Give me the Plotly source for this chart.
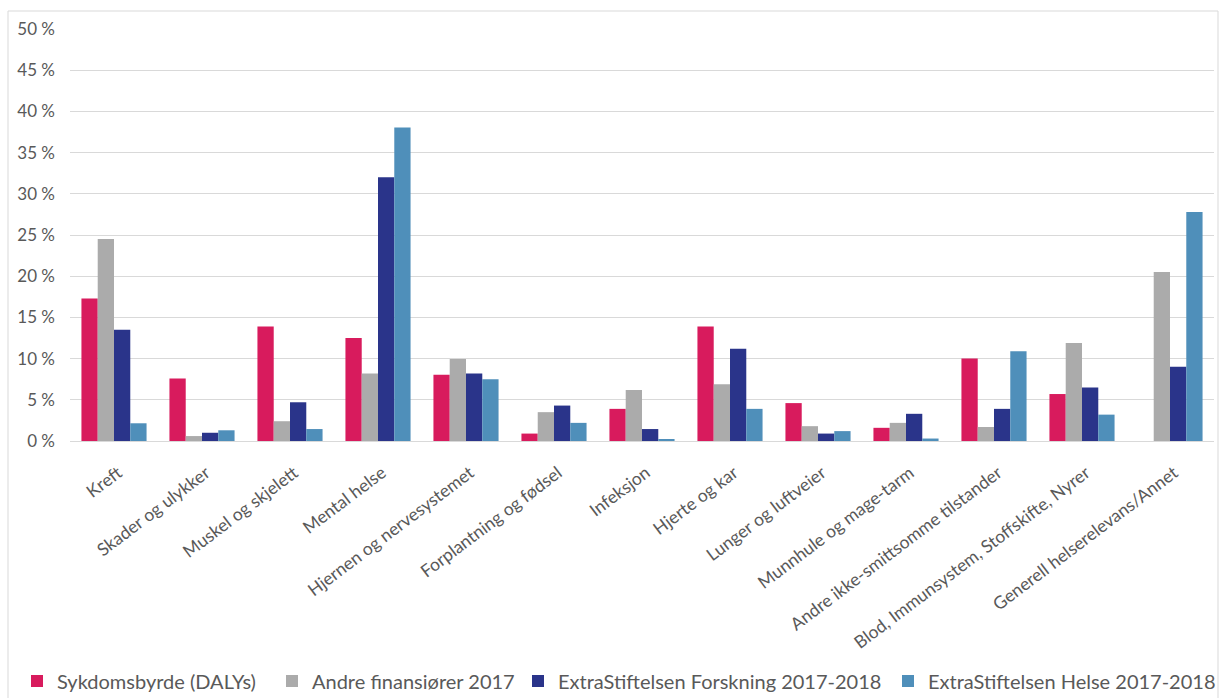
import plotly.graph_objects as go

categories = ["Kreft", "Skader og ulykker", "Muskel og skjelett", "Mental helse",
              "Hjernen og nervesystemet", "Forplantning og fødsel", "Infeksjon",
              "Hjerte og kar", "Lunger og luftveier", "Munnhule og mage-tarm",
              "Andre ikke-smittsomme tilstander", "Blod, Immunsystem, Stoffskifte, Nyrer",
              "Generell helserelevans/Annet"]

sykdomsbyrde = [17.3, 7.6, 13.9, 12.5, 8.05, 0.9, 3.9, 13.9, 4.6, 1.6, 10.0, 5.7, 0.0]
andre_finansiorer = [24.5, 0.6, 2.4, 8.2, 9.95, 3.5, 6.2, 6.9, 1.8, 2.2, 1.7, 11.9, 20.5]
extra_forskning = [13.5, 1.0, 4.7, 32.0, 8.2, 4.3, 1.45, 11.2, 0.9, 3.3, 3.9, 6.5, 9.0]
extra_helse = [2.15, 1.3, 1.45, 38.05, 7.5, 2.2, 0.2, 3.9, 1.2, 0.3, 10.9, 3.2, 27.8]

series_names = ["Sykdomsbyrde (DALYs)", "Andre finansiører 2017",
                "ExtraStiftelsen Forskning 2017-2018", "ExtraStiftelsen Helse 2017-2018"]
series_values = [sykdomsbyrde, andre_finansiorer, extra_forskning, extra_helse]
colors = ["#D81B5D", "#ABABAB", "#2A348A", "#4F8FBA"]

y_ticks = [0, 5, 10, 15, 20, 25, 30, 35, 40, 45, 50]
y_tick_labels = ["0 %", "5 %", "10 %", "15 %", "20 %", "25 %", "30 %", "35 %", "40 %", "45 %", "50 %"]

FONT = "Lato, Carlito, Calibri, sans-serif"
TXT = "#595959"

# plot area: x 70..1214, y 29..441
L, R, T, B = 70, 11, 29, 257
W, H = 1225, 698
pw, ph = W - L - R, H - T - B

def px(x):
    return (x - L) / pw

def py(y):
    return (H - B - y) / ph

legend_ids = ["legend", "legend2", "legend3", "legend4"]
legend_left = [17, 272, 518, 888]

fig = go.Figure()
for name, vals, col, lid in zip(series_names, series_values, colors, legend_ids):
    fig.add_trace(go.Bar(x=categories, y=vals, name=name, marker_color=col,
                         marker_line_width=0, legend=lid))

legend_layout = {}
for lid, lx in zip(legend_ids, legend_left):
    legend_layout[lid] = dict(orientation="h", x=px(lx), xanchor="left", y=py(681),
                              yanchor="middle", bgcolor="rgba(0,0,0,0)", borderwidth=0,
                              font=dict(size=20, color=TXT, family=FONT))

fig.update_layout(
    width=W, height=H,
    margin=dict(l=L, r=R, t=T, b=B, autoexpand=False),
    paper_bgcolor="white", plot_bgcolor="white",
    barmode="group", bargap=0.26, bargroupgap=0,
    font=dict(family=FONT, color=TXT),
    showlegend=True,
    shapes=[dict(type="rect", xref="paper", yref="paper",
                 x0=px(8), x1=px(1218), y0=py(699), y1=py(11),
                 line=dict(color="#D9D9D9", width=1), fillcolor="rgba(0,0,0,0)", layer="below")],
    **legend_layout,
)
fig.update_yaxes(range=[0, 50], tickmode="array", tickvals=y_ticks, ticktext=y_tick_labels,
                 showgrid=True, gridcolor="#D9D9D9", gridwidth=1,
                 zeroline=True, zerolinecolor="#D9D9D9", zerolinewidth=1,
                 showline=False, tickfont=dict(size=17, color=TXT, family=FONT),
                 ticks="", ticklabelstandoff=14, fixedrange=True, automargin=False)
fig.update_xaxes(tickangle=-37, tickfont=dict(size=17.5, color=TXT, family=FONT),
                 showline=True, linecolor="#D9D9D9", ticks="", showgrid=False,
                 ticklabelstandoff=14, ticklabelshift=4, fixedrange=True, automargin=False)

fig.write_html("out.html", config={"displayModeBar": False},
               post_script="document.body.style.margin='0px';")
